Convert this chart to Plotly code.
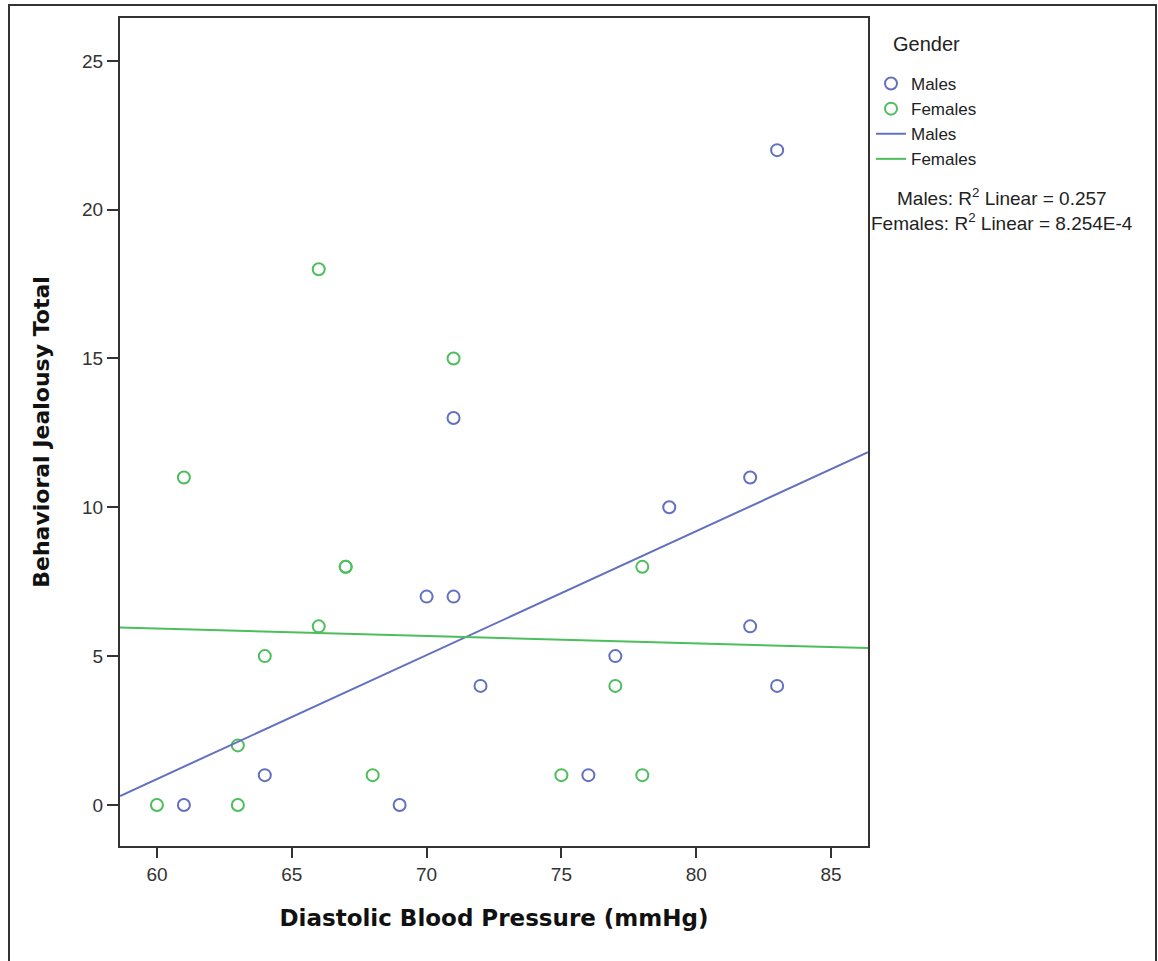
import plotly.graph_objects as go

# ---- data ----
males_x = [61, 64, 69, 70, 71, 71, 72, 76, 77, 79, 82, 82, 83, 83]
males_y = [0, 1, 0, 7, 7, 13, 4, 1, 5, 10, 11, 6, 22, 4]

females_x = [60, 61, 63, 63, 64, 66, 66, 67, 67, 68, 71, 75, 77, 78, 78]
females_y = [0, 11, 2, 0, 5, 18, 6, 8, 8, 1, 15, 1, 4, 8, 1]

# fitted lines (values read at the axis ends)
fit_x = [58.63, 86.37]
males_fit_y = [0.30, 11.85]
females_fit_y = [5.96, 5.27]

x_ticks = [60, 65, 70, 75, 80, 85]
y_ticks = [0, 5, 10, 15, 20, 25]

legend_title = "Gender"
r2_labels = ["Males: R<sup>2</sup> Linear = 0.257",
             "Females: R<sup>2</sup> Linear = 8.254E-4"]

BLUE = "#6270C0"
GREEN = "#4DBE5C"
SANS = "Liberation Sans, Arial"

fig = go.Figure()
fig.add_trace(go.Scatter(x=males_x, y=males_y, mode="markers", name="Males",
                         marker=dict(symbol="circle-open", size=12, color=BLUE,
                                     line=dict(width=2, color=BLUE))))
fig.add_trace(go.Scatter(x=females_x, y=females_y, mode="markers", name="Females",
                         marker=dict(symbol="circle-open", size=12, color=GREEN,
                                     line=dict(width=2, color=GREEN))))
fig.add_trace(go.Scatter(x=fit_x, y=males_fit_y, mode="lines", name="Males",
                         line=dict(color=BLUE, width=2)))
fig.add_trace(go.Scatter(x=fit_x, y=females_fit_y, mode="lines", name="Females",
                         line=dict(color=GREEN, width=2)))

L, R, T, B = 120, 290, 18, 115
W, H = 1158, 961
pw, ph = W - L - R, H - T - B

def px_x(p):
    return (p - L) / pw

def px_y(p):
    return 1 - (p - T) / ph

fig.add_shape(type="rect", xref="paper", yref="paper",
              x0=px_x(9), x1=px_x(1156), y0=px_y(968), y1=px_y(5),
              line=dict(color="#333333", width=2), layer="below")

fig.add_annotation(xref="paper", yref="paper", x=px_x(891), y=px_y(44),
                   text=legend_title, showarrow=False, xanchor="left", yanchor="middle",
                   font=dict(family=SANS, size=20, color="#222222"))

for i, txt in enumerate(r2_labels):
    fig.add_annotation(xref="paper", yref="paper", x=px_x(1002), y=px_y(197 + 25 * i),
                       text=txt, showarrow=False, xanchor="center", yanchor="middle",
                       font=dict(family=SANS, size=19, color="#222222"))

fig.update_layout(
    width=W, height=H,
    margin=dict(l=L, r=R, t=T, b=B, autoexpand=False),
    paper_bgcolor="white", plot_bgcolor="white",
    showlegend=True,
    legend=dict(x=px_x(871), y=px_y(66), xanchor="left", yanchor="top",
                font=dict(family=SANS, size=17, color="#222222"),
                tracegroupgap=0, itemwidth=30, bgcolor="rgba(0,0,0,0)"),
    xaxis=dict(range=[fit_x[0], fit_x[1]], tickvals=x_ticks, ticks="outside", ticklen=10,
               tickwidth=2, tickcolor="#333333", showline=True, linecolor="#333333",
               linewidth=2, mirror=True, showgrid=False, zeroline=False,
               tickfont=dict(family=SANS, size=19, color="#333333"),
               title=dict(text="<b>Diastolic Blood Pressure (mmHg)</b>", standoff=26,
                          font=dict(family="DejaVu Sans", size=23, color="#111111"))),
    yaxis=dict(range=[-1.38, 26.44], tickvals=y_ticks, ticks="outside", ticklen=11,
               tickwidth=2, tickcolor="#333333", showline=True, linecolor="#333333",
               linewidth=2, mirror=True, showgrid=False, zeroline=False,
               tickfont=dict(family=SANS, size=19, color="#333333"),
               title=dict(text="<b>Behavioral Jealousy Total</b>", standoff=26,
                          font=dict(family="DejaVu Sans", size=22, color="#111111"))),
)

fig.write_html("out.html")
